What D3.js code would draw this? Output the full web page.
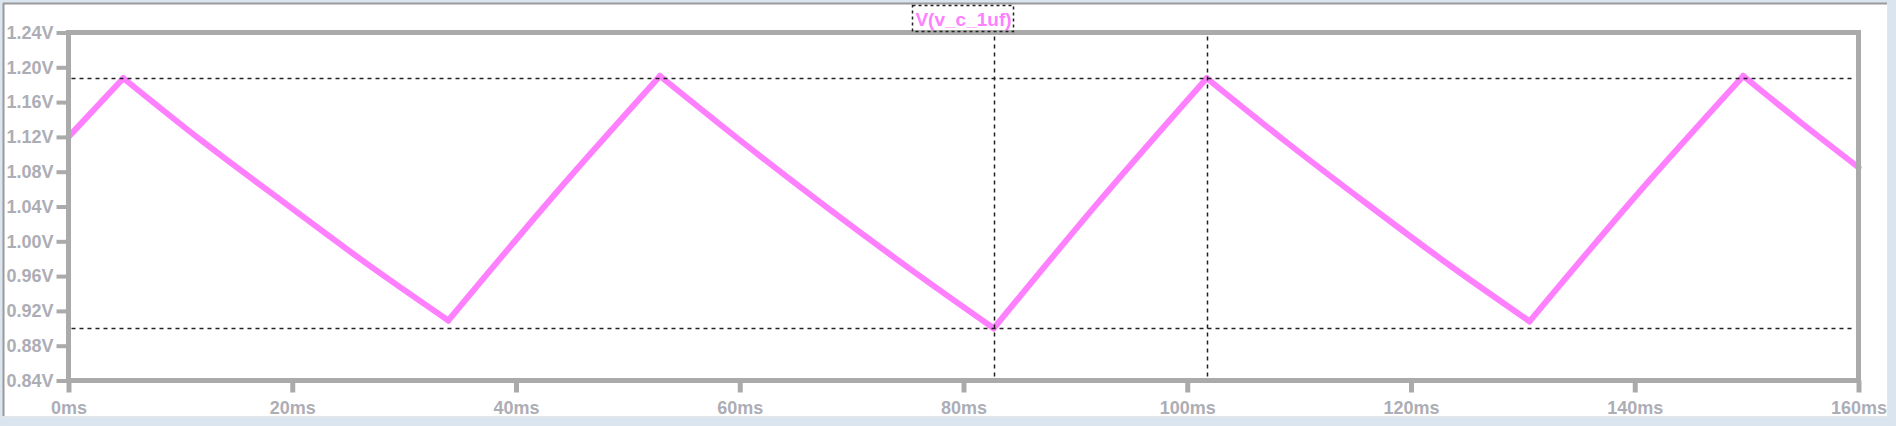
<!DOCTYPE html>
<html>
<head>
<meta charset="utf-8">
<script src="https://cdn.jsdelivr.net/npm/d3@7"></script>
<style>
  html, body { margin: 0; padding: 0; background: #dbe5f0; }
  svg { display: block; }
</style>
</head>
<body>
<svg id="chart" width="1896" height="426"></svg>
<script>
// ---- data ----
const traceName = "V(v_c_1uf)";
const timeMs = [0, 4.9, 12.16, 19.43, 26.69, 33.95, 43.4, 52.87, 60.33, 67.79, 75.24, 82.7,
                92.2, 101.74, 108.96, 116.17, 123.39, 130.6, 140.15, 149.7, 154.9, 160];
const voltage = [1.12, 1.1875, 1.113, 1.043, 0.974, 0.909, 1.053, 1.19, 1.113, 1.039, 0.968, 0.900,
                 1.047, 1.1875, 1.113, 1.042, 0.973, 0.908, 1.053, 1.19, 1.136, 1.085];
const xTicks = [0, 20, 40, 60, 80, 100, 120, 140, 160];
const xTickLabels = ["0ms", "20ms", "40ms", "60ms", "80ms", "100ms", "120ms", "140ms", "160ms"];
const yTicks = [0.84, 0.88, 0.92, 0.96, 1.00, 1.04, 1.08, 1.12, 1.16, 1.20, 1.24];
const yTickLabels = ["0.84V", "0.88V", "0.92V", "0.96V", "1.00V", "1.04V", "1.08V", "1.12V", "1.16V", "1.20V", "1.24V"];
const cursorTimes = [82.7, 101.74];
const cursorVolts = [1.1875, 0.900];

// ---- layout ----
const svg = d3.select("#chart");
const L = 68.5, R = 1858.5, T = 32.5, B = 380.5;
const x = d3.scaleLinear().domain([0, 160]).range([L, R]);
const y = d3.scaleLinear().domain([0.84, 1.24]).range([B, T]);
const axisColor = "#aaaaaa";
const labelColor = "#adadb5";
const font = "'Liberation Sans', Arial, sans-serif";

// window panel
svg.append("rect").attr("x", 0).attr("y", 0).attr("width", 1896).attr("height", 426).attr("fill", "#dbe5f0");
svg.append("rect").attr("x", 3).attr("y", 3).attr("width", 1884).attr("height", 413).attr("fill", "#ffffff");
svg.append("line").attr("x1", 3.5).attr("x2", 3.5).attr("y1", 3).attr("y2", 416).attr("stroke", "#9a9a9a").attr("stroke-width", 2);
svg.append("line").attr("x1", 3).attr("x2", 1887).attr("y1", 3.5).attr("y2", 3.5).attr("stroke", "#9a9a9a").attr("stroke-width", 2);
svg.append("line").attr("x1", 1887.5).attr("x2", 1887.5).attr("y1", 3).attr("y2", 417).attr("stroke", "#e6e6e6").attr("stroke-width", 1);
svg.append("line").attr("x1", 3).attr("x2", 1888).attr("y1", 416.5).attr("y2", 416.5).attr("stroke", "#e6e6e6").attr("stroke-width", 1);

// waveform: split into monotone runs at the extrema, each drawn smooth but with sharp corners at peaks
const pts = timeMs.map((t, i) => [t, voltage[i]]);
const runs = [];
let cur = [pts[0]];
for (let i = 1; i < pts.length; i++) {
  cur.push(pts[i]);
  if (i < pts.length - 1) {
    const a = pts[i][1] - pts[i - 1][1], b = pts[i + 1][1] - pts[i][1];
    if (a * b < 0) { runs.push(cur); cur = [pts[i]]; }
  }
}
runs.push(cur);
const line = d3.line().x(d => x(d[0])).y(d => y(d[1])).curve(d3.curveMonotoneX);
svg.selectAll(".trace").data(runs).enter().append("path")
  .attr("d", line)
  .attr("fill", "none")
  .attr("stroke", "#ff80ff")
  .attr("stroke-width", 6)
  .attr("stroke-linecap", "round")
  .attr("stroke-linejoin", "round");

// cursors
const dash = "4,4";
svg.selectAll(".hcur").data(cursorVolts).enter().append("line")
  .attr("x1", L + 3).attr("x2", R - 3)
  .attr("y1", d => Math.round(y(d)) + 0.5).attr("y2", d => Math.round(y(d)) + 0.5)
  .attr("stroke", "#222").attr("stroke-width", 1.5).attr("stroke-dasharray", dash);
svg.selectAll(".vcur").data(cursorTimes).enter().append("line")
  .attr("x1", d => Math.round(x(d)) + 0.5).attr("x2", d => Math.round(x(d)) + 0.5)
  .attr("y1", T + 4).attr("y2", B - 3)
  .attr("stroke", "#222").attr("stroke-width", 1.5).attr("stroke-dasharray", dash);

// axes frame
svg.append("rect").attr("x", L).attr("y", T).attr("width", R - L).attr("height", B - T)
  .attr("fill", "none").attr("stroke", axisColor).attr("stroke-width", 5);

// y axis ticks + labels
const yAxis = d3.axisLeft(y).tickValues(yTicks).tickSize(12).tickPadding(2)
  .tickFormat((d, i) => yTickLabels[i]);
const gy = svg.append("g").attr("transform", `translate(${L},0)`).call(yAxis);
gy.select(".domain").remove();
gy.selectAll(".tick line").attr("stroke", axisColor).attr("stroke-width", 4);
gy.selectAll(".tick text").attr("fill", labelColor).attr("font-family", font)
  .attr("font-size", 18).attr("font-weight", "bold").attr("x", -15);

// x axis ticks + labels
const xAxis = d3.axisBottom(x).tickValues(xTicks).tickSize(12).tickPadding(6)
  .tickFormat((d, i) => xTickLabels[i]);
const gx = svg.append("g").attr("transform", `translate(0,${B})`).call(xAxis);
gx.select(".domain").remove();
gx.selectAll(".tick line").attr("stroke", axisColor).attr("stroke-width", 5);
gx.selectAll(".tick text").attr("fill", labelColor).attr("font-family", font)
  .attr("font-size", 18).attr("font-weight", "bold").attr("dy", null).attr("y", 33);

// title with dashed box
const title = svg.append("text")
  .attr("x", (L + R) / 2).attr("y", 25.5)
  .attr("text-anchor", "middle")
  .attr("font-family", font).attr("font-size", 19).attr("font-weight", "bold")
  .attr("fill", "#ff80ff")
  .text(traceName);
const bb = title.node().getBBox();
svg.append("rect")
  .attr("x", Math.round(bb.x) - 2.5).attr("y", 5.5)
  .attr("width", Math.round(bb.width) + 5).attr("height", 26)
  .attr("fill", "none").attr("stroke", "#222").attr("stroke-width", 1.5).attr("stroke-dasharray", "3,3");
</script>
</body>
</html>
